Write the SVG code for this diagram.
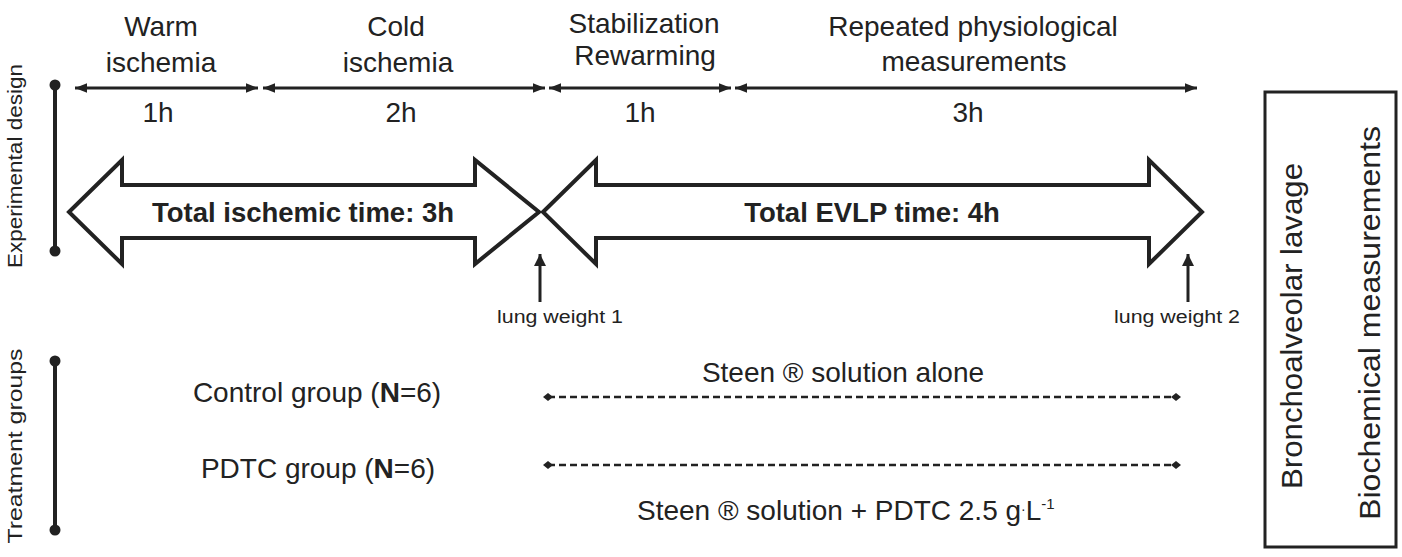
<svg xmlns="http://www.w3.org/2000/svg" width="1402" height="557" viewBox="0 0 1402 557">
<style>
text{font-family:"Liberation Sans",Arial,sans-serif;fill:#222}
.lbl{font-size:28px;text-anchor:middle}
.big{font-size:27.5px;font-weight:bold;text-anchor:middle}
.side{font-size:20px;text-anchor:middle}
.small{font-size:18px;text-anchor:middle}
.box{font-size:30px;text-anchor:middle}
.tl{stroke:#222;stroke-width:3;fill:none}
.bigarrow{fill:#fff;stroke:#222;stroke-width:4;stroke-linejoin:miter}
.dash{stroke:#222;stroke-width:2.5;stroke-dasharray:7 4;fill:none}
.bar{stroke:#222;stroke-width:4}
</style>
<defs>
<marker id="ah" viewBox="0 0 10 10" refX="10" refY="5" markerWidth="4" markerHeight="4" orient="auto-start-reverse" markerUnits="strokeWidth">
<path d="M0,1 L10,5 L0,9 Z" fill="#222"/>
</marker>
<marker id="up" viewBox="0 0 10 10" refX="10" refY="5" markerWidth="4" markerHeight="4" orient="auto" markerUnits="strokeWidth">
<path d="M0,0 L10,5 L0,10 Z" fill="#222"/>
</marker>
<marker id="dia" viewBox="0 0 10 10" refX="5" refY="5" markerWidth="4" markerHeight="4" orient="auto" markerUnits="strokeWidth">
<path d="M0,5 L5,1 L10,5 L5,9 Z" fill="#222"/>
</marker>
</defs>

<g id="side-labels">
<g id="experimental-design">
<line class="bar" x1="55" y1="85" x2="55" y2="251"/>
<circle cx="55" cy="85" r="5.5" fill="#222"/>
<circle cx="55" cy="251" r="5.5" fill="#222"/>
<text class="side" transform="translate(22,166) rotate(-90)" textLength="204" lengthAdjust="spacingAndGlyphs">Experimental design</text>
</g>
<g id="treatment-groups">
<line class="bar" x1="55" y1="361" x2="55" y2="530"/>
<circle cx="55" cy="361" r="5.5" fill="#222"/>
<circle cx="55" cy="530" r="5.5" fill="#222"/>
<text class="side" transform="translate(22,446) rotate(-90)" textLength="195" lengthAdjust="spacingAndGlyphs">Treatment groups</text>
</g>
</g>

<g id="phase-warm">
<text class="lbl" x="161" y="36">Warm</text>
<text class="lbl" x="161" y="72">ischemia</text>
<text class="lbl" x="158" y="122">1h</text>
</g>
<g id="phase-cold">
<text class="lbl" x="396" y="36">Cold</text>
<text class="lbl" x="398" y="72">ischemia</text>
<text class="lbl" x="401" y="122">2h</text>
</g>
<g id="phase-stab">
<text class="lbl" x="644" y="33">Stabilization</text>
<text class="lbl" x="645" y="65">Rewarming</text>
<text class="lbl" x="640" y="122">1h</text>
</g>
<g id="phase-rep">
<text class="lbl" x="973" y="36">Repeated physiological</text>
<text class="lbl" x="974" y="71">measurements</text>
<text class="lbl" x="968" y="122">3h</text>
</g>

<g id="connectors">
<line class="tl" x1="75" y1="88" x2="258" y2="88" marker-start="url(#ah)" marker-end="url(#ah)"/>
<line class="tl" x1="263" y1="88" x2="545" y2="88" marker-start="url(#ah)" marker-end="url(#ah)"/>
<line class="tl" x1="549" y1="88" x2="731" y2="88" marker-start="url(#ah)" marker-end="url(#ah)"/>
<line class="tl" x1="735" y1="88" x2="1197" y2="88" marker-start="url(#ah)" marker-end="url(#ah)"/>
<line class="tl" x1="540" y1="302" x2="540" y2="254" marker-end="url(#up)"/>
<line class="tl" x1="1188" y1="302" x2="1188" y2="254" marker-end="url(#up)"/>
<line class="dash" x1="548" y1="397" x2="1176" y2="397" marker-start="url(#dia)" marker-end="url(#dia)"/>
<line class="dash" x1="548" y1="465" x2="1176" y2="465" marker-start="url(#dia)" marker-end="url(#dia)"/>
</g>

<g id="total-ischemic">
<path class="bigarrow" d="M69,212 L122,160 L122,185 L475,185 L475,160 L539,212 L475,264 L475,238 L122,238 L122,264 Z"/>
<text class="big" x="303" y="222">Total ischemic time: 3h</text>
</g>
<g id="total-evlp">
<path class="bigarrow" d="M543,212 L596,160 L596,185 L1149,185 L1149,160 L1202,212 L1149,264 L1149,238 L596,238 L596,264 Z"/>
<text class="big" x="872" y="222">Total EVLP time: 4h</text>
</g>

<g id="lung-weight-1"><text class="small" x="560" y="323" textLength="126" lengthAdjust="spacingAndGlyphs">lung weight 1</text></g>
<g id="lung-weight-2"><text class="small" x="1177" y="323" textLength="126" lengthAdjust="spacingAndGlyphs">lung weight 2</text></g>

<g id="control-group">
<text class="lbl" x="317" y="402">Control group (<tspan font-weight="bold">N</tspan>=6)</text>
</g>
<g id="pdtc-group">
<text class="lbl" x="318" y="478">PDTC group (<tspan font-weight="bold">N</tspan>=6)</text>
</g>
<g id="steen-alone"><text class="lbl" x="843" y="382">Steen ® solution alone</text></g>
<g id="steen-pdtc"><text class="lbl" x="637" y="520" style="text-anchor:start">Steen ® solution + PDTC 2.5 g<tspan font-size="14" dy="-6">·</tspan><tspan dy="6">L</tspan><tspan font-size="15" dy="-11">-1</tspan></text></g>

<g id="outcome-box">
<rect x="1265" y="92" width="131" height="455" fill="#fff" stroke="#222" stroke-width="3"/>
<text class="box" transform="translate(1302,326) rotate(-90)" textLength="326" lengthAdjust="spacingAndGlyphs">Bronchoalveolar lavage</text>
<text class="box" transform="translate(1380,323) rotate(-90)" textLength="394" lengthAdjust="spacingAndGlyphs">Biochemical measurements</text>
</g>
</svg>
